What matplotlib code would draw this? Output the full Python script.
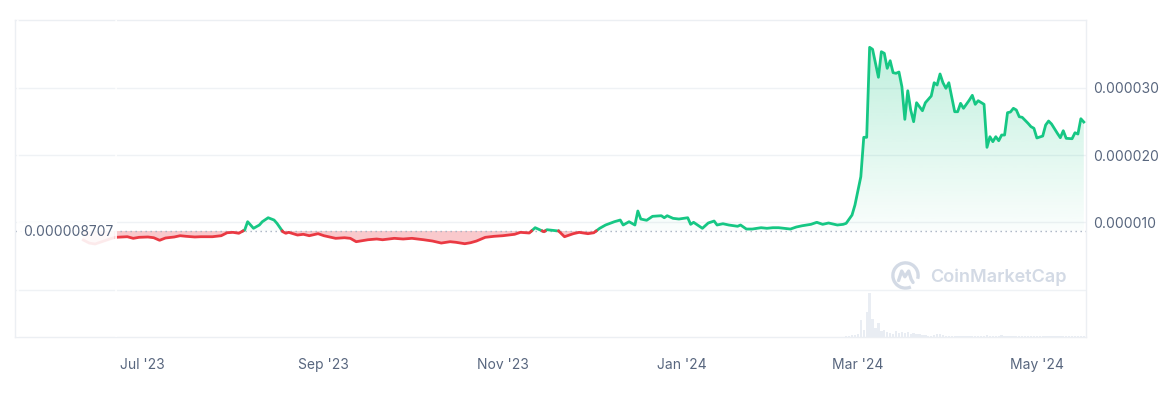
import numpy as np
import pandas as pd
import matplotlib
matplotlib.use("Agg")
import matplotlib.pyplot as plt
import matplotlib.dates as mdates
import matplotlib.transforms as mtransforms
from matplotlib.path import Path
from matplotlib.patches import Arc, FancyBboxPatch
from matplotlib.colors import to_rgb

plt.rcParams['font.family'] = ['Inter', 'DejaVu Sans']

# price (units of 1e-6 USD)
dates = [
    "2023-06-11", "2023-06-13", "2023-06-15", "2023-06-18", "2023-06-21", "2023-06-22",
    "2023-06-26", "2023-06-28", "2023-06-30",
    "2023-07-03", "2023-07-05", "2023-07-07", "2023-07-09", "2023-07-12", "2023-07-14",
    "2023-07-16", "2023-07-19", "2023-07-21", "2023-07-23", "2023-07-25", "2023-07-28",
    "2023-07-30",
    "2023-08-01", "2023-08-03", "2023-08-05", "2023-08-06", "2023-08-08", "2023-08-10",
    "2023-08-11", "2023-08-13", "2023-08-15", "2023-08-16", "2023-08-18", "2023-08-19",
    "2023-08-20", "2023-08-23", "2023-08-25", "2023-08-27", "2023-08-30",
    "2023-09-01", "2023-09-03", "2023-09-05", "2023-09-08", "2023-09-10", "2023-09-12",
    "2023-09-16", "2023-09-19", "2023-09-21", "2023-09-25", "2023-09-28",
    "2023-10-01", "2023-10-05", "2023-10-08", "2023-10-11", "2023-10-14", "2023-10-16",
    "2023-10-19", "2023-10-21", "2023-10-23", "2023-10-26", "2023-10-29",
    "2023-11-01", "2023-11-05", "2023-11-07", "2023-11-10", "2023-11-12", "2023-11-14",
    "2023-11-15", "2023-11-16", "2023-11-18", "2023-11-20", "2023-11-22", "2023-11-25",
    "2023-11-27", "2023-11-30",
    "2023-12-02", "2023-12-04", "2023-12-06", "2023-12-09", "2023-12-11", "2023-12-12",
    "2023-12-14", "2023-12-16", "2023-12-17", "2023-12-18", "2023-12-20", "2023-12-22",
    "2023-12-25", "2023-12-26", "2023-12-27", "2023-12-29", "2023-12-31",
    "2024-01-03", "2024-01-04", "2024-01-05", "2024-01-08", "2024-01-10", "2024-01-12",
    "2024-01-13", "2024-01-15", "2024-01-17", "2024-01-20", "2024-01-21", "2024-01-23",
    "2024-01-25", "2024-01-28", "2024-01-30",
    "2024-02-01", "2024-02-03", "2024-02-07", "2024-02-09", "2024-02-11", "2024-02-14",
    "2024-02-16", "2024-02-18", "2024-02-20", "2024-02-23", "2024-02-25", "2024-02-26",
    "2024-02-28", "2024-02-29",
    "2024-03-02", "2024-03-03", "2024-03-04", "2024-03-05", "2024-03-06", "2024-03-07",
    "2024-03-08", "2024-03-09", "2024-03-10", "2024-03-11", "2024-03-12", "2024-03-13",
    "2024-03-14", "2024-03-15", "2024-03-16", "2024-03-17", "2024-03-18", "2024-03-19",
    "2024-03-20", "2024-03-21", "2024-03-23", "2024-03-24", "2024-03-26", "2024-03-27",
    "2024-03-28", "2024-03-29", "2024-03-30", "2024-03-31",
    "2024-04-01", "2024-04-03", "2024-04-04", "2024-04-05", "2024-04-06", "2024-04-08",
    "2024-04-09", "2024-04-10", "2024-04-11", "2024-04-13", "2024-04-14", "2024-04-15",
    "2024-04-16", "2024-04-17", "2024-04-18", "2024-04-19", "2024-04-20", "2024-04-21",
    "2024-04-22", "2024-04-23", "2024-04-24", "2024-04-25", "2024-04-26", "2024-04-28",
    "2024-04-29", "2024-04-30",
    "2024-05-01", "2024-05-03", "2024-05-04", "2024-05-05", "2024-05-06", "2024-05-08",
    "2024-05-09", "2024-05-10", "2024-05-11", "2024-05-13", "2024-05-14", "2024-05-15",
    "2024-05-16", "2024-05-17",
]
price_e6 = [
    7.37, 6.92, 6.78, 7.22, 7.67, 7.77, 7.86, 7.62, 7.77,
    7.82, 7.71, 7.33, 7.67, 7.82, 8.01, 7.92, 7.82, 7.86, 7.86, 7.86, 8.01, 8.45,
    8.51, 8.37, 8.86, 10.09, 9.11, 9.60, 10.09, 10.68, 10.34, 9.85, 8.60, 8.37,
    8.51, 8.11, 8.22, 8.01, 8.31,
    8.01, 7.82, 7.62, 7.71, 7.62, 7.12, 7.41, 7.52, 7.41, 7.62, 7.52,
    7.62, 7.41, 7.22, 6.92, 7.12, 7.03, 6.82, 6.97, 7.22, 7.77, 7.92,
    8.01, 8.22, 8.51, 8.41, 9.20, 8.81, 8.60, 8.90, 8.81, 8.71, 7.86, 8.31, 8.51, 8.31,
    8.45, 9.11, 9.60, 10.09, 10.34, 9.60, 10.09, 9.60, 11.68, 10.49, 10.30, 10.89,
    10.98, 10.68, 10.98, 10.59, 10.49,
    10.68, 9.70, 10.00, 9.11, 9.90, 10.19, 9.60, 9.79, 9.60, 9.41, 9.60, 9.00,
    9.00, 9.20, 9.11,
    9.20, 9.20, 9.00, 9.30, 9.49, 9.70, 10.00, 9.70, 9.90, 9.60, 9.70, 9.85,
    11.08, 12.57,
    16.78, 22.63, 22.63, 36.00, 35.71, 33.63, 31.55, 35.35, 35.11, 32.88, 34.01, 32.23,
    32.14, 32.33, 30.15, 25.30, 29.55, 26.69, 24.95, 27.77, 26.58, 27.77, 28.77, 30.74,
    30.40, 32.04, 30.74, 29.91,
    30.74, 26.43, 26.43, 27.68, 26.94, 28.17, 28.87, 27.53, 28.07, 27.53, 21.14, 22.72,
    21.98, 22.72, 22.12, 22.97, 22.97, 26.29, 26.39, 26.94, 26.69, 25.69, 25.60, 24.71,
    24.21, 23.97,
    22.53, 22.82, 24.46, 25.05, 24.61, 23.22, 22.57, 23.61, 22.48, 22.42, 23.31, 23.12,
    25.39, 24.90,
]
base_price = 0.000008707

# daily volume from 2024-02-24 (millions USD, small bars at the bottom)
volume_start = "2024-02-24"
volume_m = [
    0.5, 0.5, 1.0, 1.5, 2.0, 2.5,
    3.0, 17.0, 7.0, 25.0, 44.0, 18.0, 9.0, 14.0, 6.0, 7.0, 5.0, 4.0, 3.0, 6.0, 4.0,
    5.0, 4.0, 5.0, 3.0, 4.0, 3.0, 3.0, 2.0, 2.0, 1.5, 1.5, 2.0, 3.0, 3.0, 2.0, 1.5,
    1.0, 1.5, 1.5, 1.0, 1.0, 1.5, 1.0, 1.0, 1.0, 1.5, 1.0, 1.0, 1.0, 2.0, 1.5,
    1.0, 1.0, 1.5, 2.0, 1.5, 1.0, 1.0, 1.0, 1.0, 1.5, 1.5, 1.0, 1.0, 1.0, 1.0,
    1.0, 1.0, 1.0, 1.0, 1.0, 1.0, 1.0, 1.0, 1.0, 1.0, 1.0, 1.0, 1.5, 1.5, 1.0,
    1.5, 1.0,
]

yticks = [0.0, 0.00001, 0.00002, 0.00003]
ytick_labels = ["", "0.000010", "0.000020", "0.000030"]

GREEN = "#16c784"
RED = "#ea3943"
TEXT = "#58667e"
GRID = "#eff2f5"


def split_at(x, y, level):
    # insert the points where the line crosses the base price
    xs, ys = [x[0]], [y[0]]
    for i in range(1, len(x)):
        y0, y1 = y[i - 1], y[i]
        if (y0 - level) * (y1 - level) < 0:
            t = (level - y0) / (y1 - y0)
            xs.append(x[i - 1] + t * (x[i] - x[i - 1]))
            ys.append(level)
        xs.append(x[i])
        ys.append(y1)
    return np.array(xs), np.array(ys)


x = mdates.date2num(pd.to_datetime(dates))
y = np.array(price_e6) * 1e-6
xx, yy = split_at(x, y, base_price)

fig = plt.figure(figsize=(11.66, 3.95), dpi=100)
ax = fig.add_axes([15 / 1166, 58 / 395, 1071 / 1166, 317 / 395])

# volume bars behind the price
vol_dates = pd.date_range(volume_start, periods=len(volume_m), freq="D")
ax_v = ax.twinx()
ax_v.bar(vol_dates, volume_m, width=0.8, color="#e9edf3", linewidth=0)
ax_v.set_ylim(0, max(volume_m) * 317 / 44)
ax_v.set_axis_off()
ax_v.set_zorder(0)
ax.set_zorder(1)
ax.patch.set_visible(False)

# green gradient fill above the base price
fill_up = ax.fill_between(xx, base_price, yy, where=yy >= base_price,
                          facecolor="none", edgecolor="none")
clip = Path.make_compound_path(*fill_up.get_paths())
grad = np.zeros((256, 1, 4))
grad[..., :3] = to_rgb(GREEN)
grad[:, 0, 3] = np.linspace(0.02, 0.27, 256)
im = ax.imshow(grad, extent=[xx[0], xx[-1], base_price, yy.max()], origin="lower",
               aspect="auto", zorder=1, interpolation="bilinear")
im.set_clip_path(clip, ax.transData)

ax.fill_between(xx, base_price, yy, where=yy <= base_price, color=RED, alpha=0.27,
                linewidth=0, zorder=1)

up = np.where(yy >= base_price, yy, np.nan)
dn = np.where(yy <= base_price, yy, np.nan)
ax.plot(xx, up, color=GREEN, lw=2.0, solid_joinstyle="round", zorder=3)
ax.plot(xx, dn, color=RED, lw=2.0, solid_joinstyle="round", zorder=3)

ax.axhline(base_price, color="#a7b1c2", lw=1, linestyle=(0, (1, 2.6)), zorder=2)

# base price label on a translucent white box
trans = mtransforms.blended_transform_factory(ax.transAxes, ax.transData)
ax.add_patch(FancyBboxPatch((2 / 1071, 6.3e-6), 100 / 1071, 3.74e-6, transform=trans,
                            boxstyle="round,pad=0,rounding_size=0.002",
                            fc="white", ec="none", alpha=0.9, zorder=9))
ax.text(0.0075, base_price - 0.2e-6, "0.000008707", transform=trans, ha="left",
        va="center", fontsize=10, color=TEXT, zorder=10)

ax.set_xlim(pd.Timestamp("2023-05-18 17:00"), pd.Timestamp("2024-05-17 18:00"))
ax.set_ylim(-0.00000704, 0.00004006)

ax.xaxis.set_major_locator(mdates.MonthLocator(bymonth=[1, 3, 5, 7, 9, 11]))
ax.xaxis.set_major_formatter(mdates.DateFormatter("%b '%y"))
ax.yaxis.tick_right()
ax.set_yticks(yticks)
ax.set_yticklabels(ytick_labels)
ax.tick_params(axis="both", length=0, labelsize=10, labelcolor=TEXT)
ax.tick_params(axis="x", pad=15)
ax.tick_params(axis="y", pad=5)
ax.grid(axis="y", color=GRID, lw=1)
ax.set_axisbelow(True)
for s in ax.spines.values():
    s.set_color("#eceff3")
    s.set_linewidth(1)

# watermark
fig.text(930 / 1166, 1 - 277 / 395, "CoinMarketCap", fontsize=13, fontweight="semibold",
         color="#d3dae5", ha="left", va="center")
logo = fig.add_axes([891 / 1166, 1 - 290 / 395, 29 / 1166, 29 / 395])
logo.set_xlim(-1.15, 1.15)
logo.set_ylim(-1.15, 1.15)
logo.set_aspect("equal")
logo.set_axis_off()
logo.add_patch(Arc((0, 0), 2, 2, theta1=-15, theta2=295, color="#d3dae5", lw=2.4))
logo.plot([-0.55, -0.3, -0.05, 0.25, 0.45, 0.6], [-0.4, 0.35, -0.1, 0.35, -0.3, -0.55],
          color="#d3dae5", lw=2.4, solid_joinstyle="round", solid_capstyle="round")

fig.savefig("out.png", dpi=100, facecolor="white")
